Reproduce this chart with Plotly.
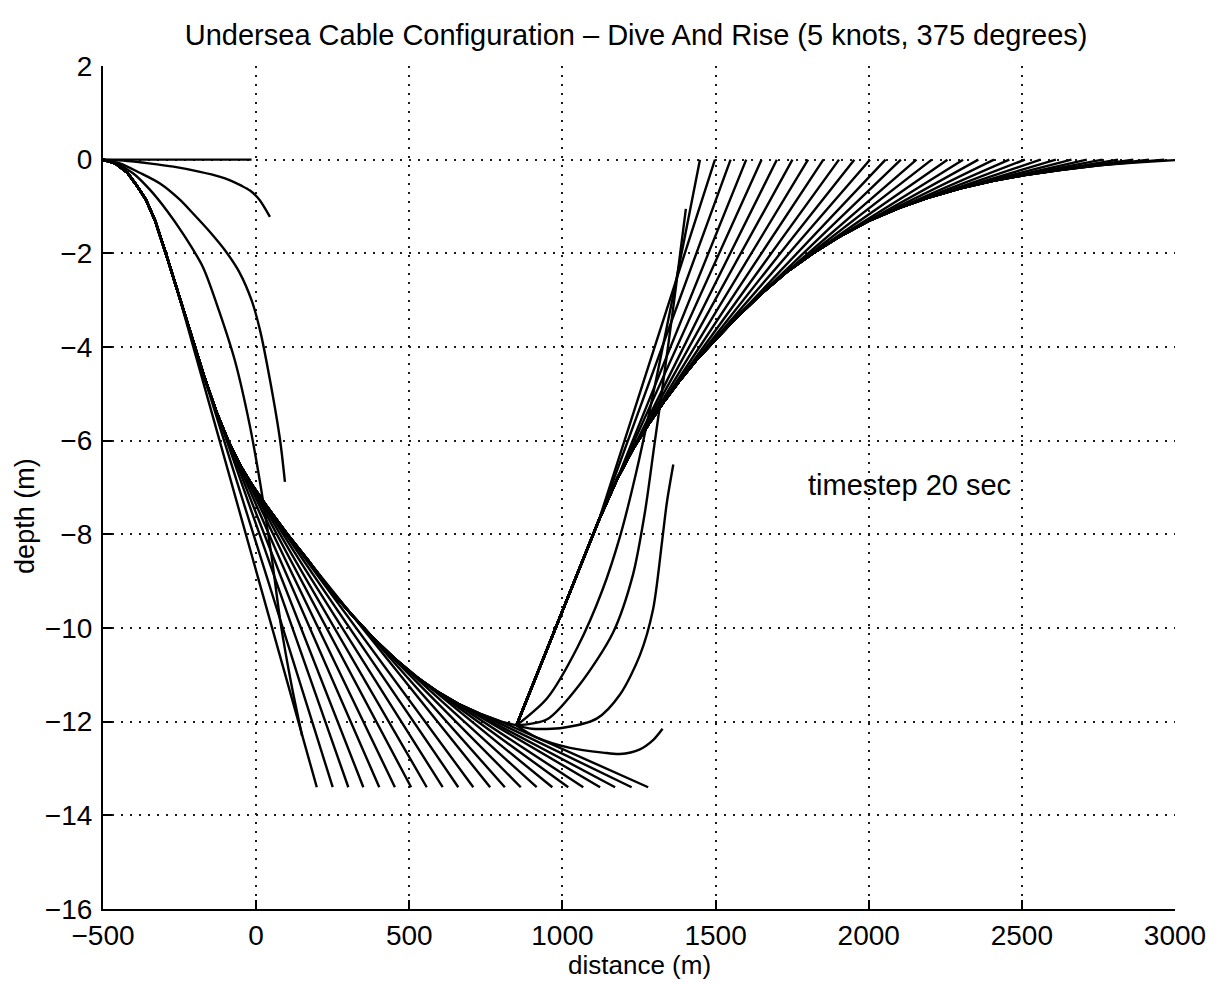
import plotly.graph_objects as go

# ---------------- data ----------------
# shared cable path during the dive (distance m, depth m)
dive_env_x = [-500, -460, -420, -390, -360, -330, -290, -250, -210, -170, -130, -90, -50, -10,
              40, 100, 170, 240, 310, 380, 450, 520, 590, 660, 730, 800, 850]
dive_env_y = [0.0, -0.08, -0.28, -0.55, -0.85, -1.3, -2.1, -2.95, -3.8, -4.62, -5.38, -6.02, -6.55, -6.98,
              -7.45, -7.98, -8.56, -9.17, -9.7, -10.2, -10.64, -11.03, -11.35, -11.62, -11.83, -12.0, -12.08]

# first snapshots of the dive (cable end still sinking)
d1_x = [-500, -15]
d1_y = [0.0, 0.0]
d2_x = [-500, -420, -350, -270, -183, -120, -85, -50, -20, 10, 45]
d2_y = [0.0, -0.03, -0.08, -0.15, -0.26, -0.36, -0.44, -0.55, -0.66, -0.85, -1.22]
d3_x = [-500, -445, -380, -314, -250, -206, -150, -100, -55, -15, 13, 45, 78, 94]
d3_y = [0.0, -0.08, -0.28, -0.51, -0.85, -1.15, -1.55, -1.95, -2.4, -3.0, -3.65, -4.7, -5.98, -6.88]
d4_x = [-500, -460, -400, -347, -290, -239, -174, -120, -69, -20, 13, 50, 80, 115, 150]
d4_y = [0.0, -0.07, -0.3, -0.64, -1.1, -1.58, -2.29, -3.25, -4.3, -5.7, -6.9, -8.45, -9.9, -11.2, -12.3]

# dive snapshots with the cable end at its deepest point
fan_end_x = [198, 250, 301, 350, 402, 453, 506, 557, 609, 660, 709,
             764, 812, 864, 916, 967, 1019, 1068, 1123, 1172, 1226, 1280]
fan_end_depth = [-13.4] * 22
fan_leave = [7, 8, 9, 10, 11, 11, 12, 12, 13, 13, 14, 16, 18, 19, 20, 20, 21, 22, 22, 23, 24, 25]

# first snapshots of the rise
r1_x = [917, 1025, 1132, 1188, 1253, 1295, 1327]
r1_y = [-12.34, -12.56, -12.66, -12.69, -12.59, -12.4, -12.15]
r2_x = [900, 1002, 1113, 1188, 1253, 1296, 1325, 1341, 1362]
r2_y = [-12.15, -12.13, -11.93, -11.42, -10.58, -9.6, -8.17, -7.32, -6.51]
r3_x = [950, 1057, 1165, 1230, 1270, 1300, 1330, 1365, 1403]
r3_y = [-11.95, -11.2, -10.1, -8.87, -7.5, -6.1, -4.7, -3.0, -1.05]
r4_x = [950, 1050, 1130, 1190, 1240, 1290, 1340, 1395, 1449]
r4_y = [-11.5, -10.4, -9.2, -8.0, -6.7, -5.2, -3.6, -1.8, 0.0]

# shared cable path during the rise
rise_env_x = [850, 950, 1050, 1120, 1180, 1230, 1280, 1330, 1380, 1435, 1491, 1570, 1650, 1730,
              1818, 1900, 2000, 2100, 2190, 2300, 2406, 2510, 2624, 2750, 2870, 3000]
rise_env_y = [-12.08, -10.45, -8.8, -7.68, -6.8, -6.18, -5.66, -5.18, -4.74, -4.3, -3.9, -3.36, -2.86, -2.41,
              -2.0, -1.66, -1.31, -1.03, -0.82, -0.61, -0.45, -0.33, -0.22, -0.12, -0.06, -0.01]

# rise snapshots with the cable end at the surface
surf_end_x = [1498, 1549, 1600, 1650, 1700, 1751, 1802, 1852, 1903, 1953, 2004, 2055, 2105, 2156, 2206,
              2257, 2308, 2358, 2409, 2459, 2510, 2561, 2611, 2662, 2712, 2763, 2814, 2864, 2915, 2965]
surf_end_depth = [0.0] * 30
surf_leave = [3, 3, 4, 4, 5, 5, 5, 6, 7, 8, 9, 10, 11, 12, 13, 14, 14, 15, 16, 16, 17, 18, 18, 19, 19,
              20, 21, 22, 23, 23]

x_ticks = [-500, 0, 500, 1000, 1500, 2000, 2500, 3000]
y_ticks = [2, 0, -2, -4, -6, -8, -10, -12, -14, -16]

# ---------------- figure ----------------
FONT = "Liberation Sans, Arial, Helvetica, sans-serif"
LW = 2.4

fig = go.Figure()


def add(cx, cy, shape="linear"):
    fig.add_trace(go.Scatter(x=cx, y=cy, mode="lines",
                             line=dict(color="black", width=LW, shape=shape, smoothing=0.8),
                             showlegend=False, hoverinfo="skip"))


add(d1_x, d1_y)
add(d2_x, d2_y, "spline")
add(d3_x, d3_y, "spline")
add(d4_x, d4_y, "spline")
for xe, ye, k in zip(fan_end_x, fan_end_depth, fan_leave):
    add(dive_env_x[:k + 1] + [xe], dive_env_y[:k + 1] + [ye])
add(dive_env_x, dive_env_y)
for tx, ty in [(r1_x, r1_y), (r2_x, r2_y), (r3_x, r3_y), (r4_x, r4_y)]:
    add(dive_env_x[-1:] + tx, dive_env_y[-1:] + ty, "spline")
for xs, ys, k in zip(surf_end_x, surf_end_depth, surf_leave):
    add(rise_env_x[:k + 1] + [xs], rise_env_y[:k + 1] + [ys])
add(rise_env_x, rise_env_y)

fig.add_annotation(x=2132, y=-6.95, text="timestep 20 sec", showarrow=False,
                   font=dict(family=FONT, size=29, color="black"))

# axis titles placed as paper annotations
fig.add_annotation(xref="paper", yref="paper", x=0.5, y=-0.066, xanchor="center", yanchor="middle",
                   text="distance (m)", showarrow=False,
                   font=dict(family=FONT, size=26, color="black"))
fig.add_annotation(xref="paper", yref="paper", x=-0.073, y=0.466, xanchor="center", yanchor="middle",
                   text="depth (m)", textangle=-90, showarrow=False,
                   font=dict(family=FONT, size=27, color="black"))

axis_common = dict(
    showgrid=True, gridcolor="#1a1a1a", gridwidth=2, griddash="2px,7px",
    zeroline=False, showline=True, linecolor="black", linewidth=2.2,
    ticks="inside", ticklen=9, tickwidth=1.8, tickcolor="black",
    tickfont=dict(family=FONT, size=28, color="black"),
    mirror=False, automargin=False,
)

fig.update_xaxes(range=[-500, 3000], tickvals=x_ticks, **axis_common)
fig.update_yaxes(range=[-16, 2], tickvals=y_ticks, ticklabelstandoff=3, **axis_common)

fig.update_layout(
    width=1208, height=974,
    margin=dict(l=95, r=41, t=58, b=73, autoexpand=False),
    paper_bgcolor="white", plot_bgcolor="white",
    title=dict(text="Undersea Cable Configuration \u2013 Dive And Rise (5 knots, 375 degrees)",
               x=0.52, xanchor="center", y=0.972, yanchor="middle",
               font=dict(family=FONT, size=29, color="black")),
    font=dict(family=FONT, color="black"),
)

fig.write_html("out.html")
